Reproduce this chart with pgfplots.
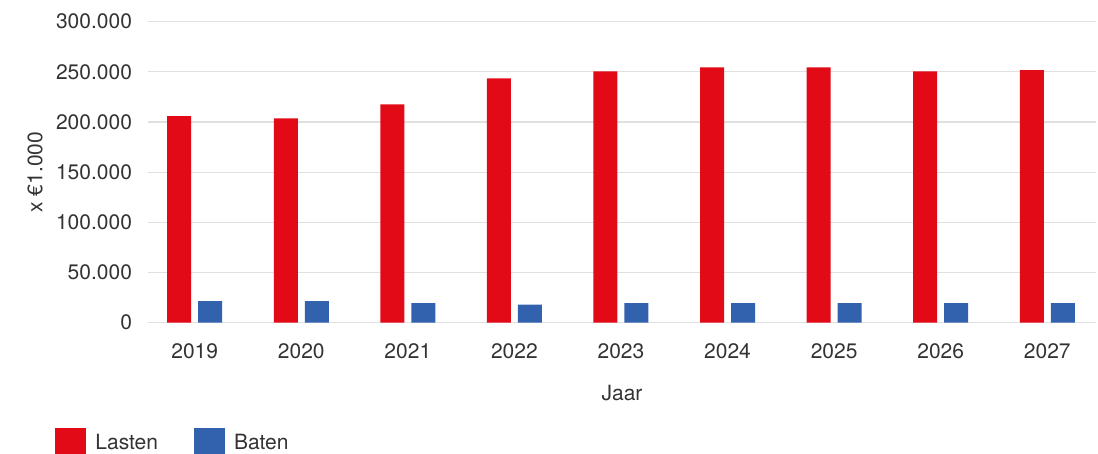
\documentclass[border=0pt]{standalone}
\usepackage{fontspec}
\setmainfont{TeX Gyre Heros}
\usepackage{pgfplots}
\pgfplotsset{compat=1.18}
\definecolor{lastred}{HTML}{E20A17}
\definecolor{batblue}{HTML}{3262AE}
\definecolor{txt}{HTML}{333333}
\definecolor{gridc}{HTML}{E0E0E0}
\newcommand\fs{\fontsize{10.5pt}{12.6pt}\selectfont}
\begin{document}
\begin{tikzpicture}
\begin{axis}[
  at={(0,0)}, anchor=south west,
  scale only axis,
  width=474pt, height=150.5pt,
  ybar=3.5pt, bar width=12pt,
  xmin=-0.438, xmax=8.457,
  ymin=0, ymax=300000,
  scaled y ticks=false,
  xtick={0,...,8},
  xticklabels={2019,2020,2021,2022,2023,2024,2025,2026,2027},
  ytick={0,50000,100000,150000,200000,250000,300000},
  yticklabels={0,50.000,100.000,150.000,200.000,250.000,300.000},
  /pgf/number format/assume math mode=true,
  axis line style={draw=none},
  major tick length=0pt,
  ymajorgrids, grid style={gridc, line width=0.6pt},
  tick label style={font=\fs, text=txt},
  xticklabel style={yshift=-7pt},
  yticklabel style={xshift=-4.5pt},
  xlabel={Jaar}, ylabel={x €1.000},
  label style={font=\fs, text=txt},
  xlabel style={at={(axis description cs:0.5,-0.233)}, anchor=center},
  ylabel style={at={(axis description cs:-0.1192,0.5)}, anchor=center},
  legend columns=2,
  legend style={at={(axis description cs:-0.0981,-0.349)}, anchor=north west,
    draw=none, fill=none, font=\fs, text=txt, inner sep=0pt,
    /tikz/every odd column/.append style={column sep=2.5pt},
    /tikz/every even column/.append style={column sep=16pt}},
  legend cell align=left,
  legend image code/.code={\fill[#1] (0pt,-8pt) rectangle (15.5pt,7.6pt);},
]
\addplot[fill=lastred, draw=none] coordinates {
  (0,206000) (1,203700) (2,217700) (3,243400) (4,250400)
  (5,254400) (6,254400) (7,250400) (8,251700)};
\addplot[fill=batblue, draw=none] coordinates {
  (0,21400) (1,21400) (2,19400) (3,18000) (4,19400)
  (5,19400) (6,19400) (7,19400) (8,19400)};
\legend{Lasten,Baten}
\end{axis}
\pgfresetboundingbox
\path[use as bounding box] (-74pt,-65.65pt) rectangle (475pt,161.35pt);
\end{tikzpicture}
\end{document}
